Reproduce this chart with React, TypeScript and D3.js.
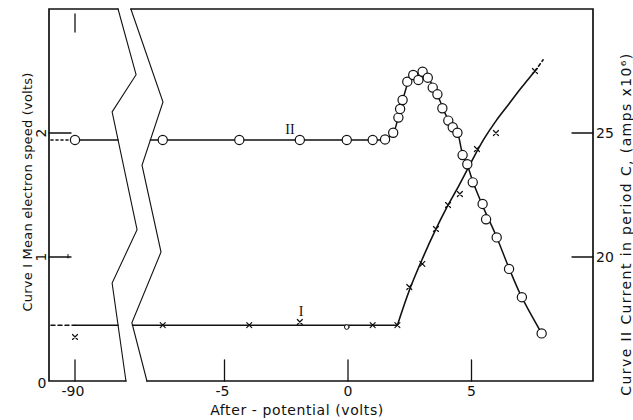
import React, { useEffect, useRef } from 'react';
import * as d3 from 'd3';

// axis ticks
const bottomTicks = [-5, 0, 5];
const farTick = -90;
const leftTicks = [1, 2];
const rightTicks = [20, 25];

// Curve II : current in period C (amps x 10^6), open circles
const curveIIVolts = [-90, -7.5, -4.4, -1.95, -0.05, 1.0, 1.5, 1.83, 2.04, 2.11, 2.21, 2.4, 2.64, 2.85, 3.02, 3.23, 3.43, 3.62, 3.82, 4.06, 4.24, 4.43, 4.64, 4.83, 5.05, 5.45, 5.59, 6.02, 6.52, 7.04, 7.84];
const curveIICurrent = [24.72, 24.72, 24.72, 24.72, 24.72, 24.72, 24.74, 25.01, 25.62, 25.97, 26.33, 27.07, 27.34, 27.14, 27.47, 27.23, 26.83, 26.56, 26.0, 25.5, 25.23, 25.01, 24.11, 23.74, 23.01, 22.14, 21.52, 20.79, 19.52, 18.38, 16.92];
// hand drawn line through curve II (right of break)
const fitIIVolts = [1.5, 1.83, 2.05, 2.25, 2.45, 2.7, 2.95, 3.2, 3.45, 3.7, 3.95, 4.2, 4.43, 4.64, 4.83, 5.05, 5.5, 6.0, 6.5, 7.0, 7.84];
const fitIICurrent = [24.72, 25.0, 25.7, 26.45, 27.05, 27.35, 27.42, 27.3, 26.85, 26.35, 25.75, 25.3, 25.0, 24.15, 23.72, 23.05, 21.95, 20.85, 19.6, 18.45, 16.92];

// Curve I : mean electron speed (volts), crosses
const curveIVolts = [-90, -7.5, -4.0, -1.95, 1.0, 2.0, 2.48, 3.01, 3.56, 4.05, 4.53, 5.22, 5.99, 7.57];
const curveISpeed = [0.355, 0.45, 0.45, 0.476, 0.45, 0.45, 0.758, 0.944, 1.226, 1.419, 1.508, 1.871, 2.0, 2.5];
const curveIOddVolts = [-0.05];
const curveIOddSpeed = [0.435];
const fitIVolts = [2.0, 2.5, 3.0, 3.5, 4.0, 4.5, 5.0, 5.5, 6.0, 6.5, 7.0, 7.57];
const fitISpeed = [0.45, 0.74, 0.98, 1.2, 1.4, 1.58, 1.77, 1.95, 2.1, 2.23, 2.36, 2.5];
const extIVolts = [7.57, 7.9];
const extISpeed = [2.5, 2.59];
const baseI = 0.45;
const baseII = 24.72;

// axis break outlines (volts on main scale, speed units)
const breakLeftVolts = [-9.31, -8.58, -9.55, -8.54, -9.55, -8.99];
const breakLeftY = [3.0, 2.47, 2.17, 1.22, 0.79, 0.0];
const breakRightVolts = [-8.79, -7.49, -8.34, -7.57, -8.75, -8.14];
const breakRightY = [3.0, 2.25, 1.74, 1.04, 0.47, 0.0];

const W = 633;
const H = 420;
const FONT = 'DejaVu Sans, sans-serif';

function xAtY(pts: [number, number][], yy: number) {
  for (let i = 0; i < pts.length - 1; i++) {
    const [x0, y0] = pts[i];
    const [x1, y1] = pts[i + 1];
    if ((yy - y0) * (yy - y1) <= 0 && y0 !== y1) {
      return x0 + ((yy - y0) / (y1 - y0)) * (x1 - x0);
    }
  }
  return pts[0][0];
}

export default function App() {
  const ref = useRef<SVGSVGElement>(null);

  useEffect(() => {
    const svg = d3.select(ref.current);
    svg.selectAll('*').remove();

    const y = d3.scaleLinear().domain([0, 3]).range([381, 9]);
    const yR = d3.scaleLinear().domain([15, 30]).range([381, 9]);
    const x = d3.scaleLinear().domain([0, 5]).range([348, 471.5]);
    const xFar = d3.scaleLinear().domain([-91, -89]).range([50.3, 99.7]);
    const px = (v: number) => (v < -50 ? xFar(v) : x(v));

    const left = 49, right = 593, top = y(3), bottom = y(0);
    const g = svg.append('g').attr('stroke', '#111').attr('fill', 'none').attr('stroke-linecap', 'round');

    const bl: [number, number][] = breakLeftVolts.map((v, i) => [x(v), y(breakLeftY[i])]);
    const br: [number, number][] = breakRightVolts.map((v, i) => [x(v), y(breakRightY[i])]);
    const line = d3.line();

    // frame
    g.append('path').attr('stroke-width', 1.7)
      .attr('d', `M${bl[0][0]},${top}H${left}V${bottom}H${bl[bl.length - 1][0]}`);
    g.append('path').attr('stroke-width', 1.7)
      .attr('d', `M${br[0][0]},${top}H${right}V${bottom}H${br[br.length - 1][0]}`);
    g.append('path').attr('stroke-width', 1.1).attr('d', line(bl));
    g.append('path').attr('stroke-width', 1.1).attr('d', line(br));

    // ticks
    [farTick, ...bottomTicks].forEach(t => {
      g.append('line').attr('stroke-width', 1.3)
        .attr('x1', px(t)).attr('x2', px(t)).attr('y1', bottom).attr('y2', bottom - 21);
    });
    g.append('line').attr('stroke-width', 1.3)
      .attr('x1', px(farTick)).attr('x2', px(farTick)).attr('y1', top + 5).attr('y2', top + 23);
    leftTicks.forEach(t => {
      g.append('line').attr('stroke-width', 1.3)
        .attr('x1', left).attr('x2', left + 22).attr('y1', y(t)).attr('y2', y(t));
    });
    // little hook drawn on the end of the "1" tick
    g.append('line').attr('stroke-width', 1)
      .attr('x1', left + 19).attr('x2', left + 19).attr('y1', y(1) - 2.5).attr('y2', y(1) + 1);
    rightTicks.forEach(t => {
      g.append('line').attr('stroke-width', 1.3)
        .attr('x1', right - 21).attr('x2', right).attr('y1', yR(t)).attr('y2', yR(t));
    });

    // tick labels
    const txt = svg.append('g').attr('font-family', FONT).attr('fill', '#111');
    [farTick, ...bottomTicks].forEach(t => {
      txt.append('text').attr('x', px(t) + (t < 0 ? -2 : 0)).attr('y', bottom + 15)
        .attr('text-anchor', 'middle').attr('font-size', 14).text(String(t));
    });
    txt.append('text').attr('x', 42).attr('y', bottom + 7).attr('text-anchor', 'middle')
      .attr('font-size', 14).text('0');
    leftTicks.forEach(t => {
      txt.append('text').attr('transform', `translate(${left - 3},${y(t)}) rotate(-90)`)
        .attr('text-anchor', 'middle').attr('font-size', 14).text(String(t));
    });
    rightTicks.forEach(t => {
      txt.append('text').attr('x', right + 3).attr('y', yR(t) + 5)
        .attr('font-size', 14).text(String(t));
    });

    // axis titles
    txt.append('text').attr('x', 297).attr('y', 415).attr('text-anchor', 'middle')
      .attr('font-size', 14).attr('letter-spacing', 0.6).text('After - potential (volts)');
    txt.append('text').attr('transform', 'translate(32,192) rotate(-90)').attr('text-anchor', 'middle')
      .attr('font-size', 13).attr('letter-spacing', 0.2).text('Curve I  Mean electron speed (volts)');
    txt.append('text').attr('transform', 'translate(631,224) rotate(-90)').attr('text-anchor', 'middle')
      .attr('font-size', 14).attr('letter-spacing', 1.4).text('Curve II  Current in period C, (amps x10⁶)');

    // curve II lines
    const yII = yR(baseII);
    g.append('line').attr('stroke-width', 1.6).attr('stroke-dasharray', '2,3')
      .attr('x1', left + 2).attr('x2', px(-90) - 5).attr('y1', yII).attr('y2', yII);
    g.append('line').attr('stroke-width', 1.5)
      .attr('x1', px(-90)).attr('x2', xAtY(bl, yII)).attr('y1', yII).attr('y2', yII);
    g.append('line').attr('stroke-width', 1.5)
      .attr('x1', xAtY(br, yII)).attr('x2', x(1.5)).attr('y1', yII).attr('y2', yII);
    const fitII: [number, number][] = fitIIVolts.map((v, i) => [x(v), yR(fitIICurrent[i])]);
    g.append('path').attr('stroke-width', 1.5).attr('d', d3.line().curve(d3.curveCatmullRom)(fitII));

    // curve I lines
    const yI = y(baseI);
    g.append('line').attr('stroke-width', 1.5).attr('stroke-dasharray', '4,3')
      .attr('x1', left + 2).attr('x2', px(-90)).attr('y1', yI).attr('y2', yI);
    g.append('line').attr('stroke-width', 1.5)
      .attr('x1', px(-90)).attr('x2', xAtY(bl, yI)).attr('y1', yI).attr('y2', yI);
    g.append('line').attr('stroke-width', 1.5)
      .attr('x1', xAtY(br, yI)).attr('x2', x(2.0)).attr('y1', yI).attr('y2', yI);
    const fitI: [number, number][] = fitIVolts.map((v, i) => [x(v), y(fitISpeed[i])]);
    g.append('path').attr('stroke-width', 1.6).attr('d', d3.line().curve(d3.curveCatmullRom)(fitI));
    const extI: [number, number][] = extIVolts.map((v, i) => [x(v), y(extISpeed[i])]);
    g.append('path').attr('stroke-width', 1.6).attr('stroke-dasharray', '3,3').attr('d', line(extI));

    // crosses
    curveIVolts.forEach((v, i) => {
      const cx = px(v), cy = y(curveISpeed[i]);
      g.append('path').attr('stroke-width', 1.2)
        .attr('d', `M${cx - 2.5},${cy - 2.5}L${cx + 2.5},${cy + 2.5}M${cx - 2.5},${cy + 2.5}L${cx + 2.5},${cy - 2.5}`);
    });
    curveIOddVolts.forEach((v, i) => {
      g.append('circle').attr('cx', px(v)).attr('cy', y(curveIOddSpeed[i])).attr('r', 2.3)
        .attr('fill', '#fff').attr('stroke-width', 1);
    });

    // circles
    curveIIVolts.forEach((v, i) => {
      g.append('circle').attr('cx', px(v)).attr('cy', yR(curveIICurrent[i])).attr('r', 4.6)
        .attr('fill', '#fff').attr('stroke-width', 1.2);
    });

    // curve labels
    txt.append('text').attr('x', x(-2.35)).attr('y', yII - 6).attr('text-anchor', 'middle')
      .attr('font-size', 14).attr('font-family', 'Liberation Serif, serif').text('II');
    txt.append('text').attr('x', x(-1.9)).attr('y', yI - 9).attr('text-anchor', 'middle')
      .attr('font-size', 14).attr('font-family', 'Liberation Serif, serif').text('I');
  }, []);

  return (
    <svg ref={ref} width={W} height={H}
      style={{ position: 'absolute', left: 0, top: 0, background: '#fff' }} />
  );
}
